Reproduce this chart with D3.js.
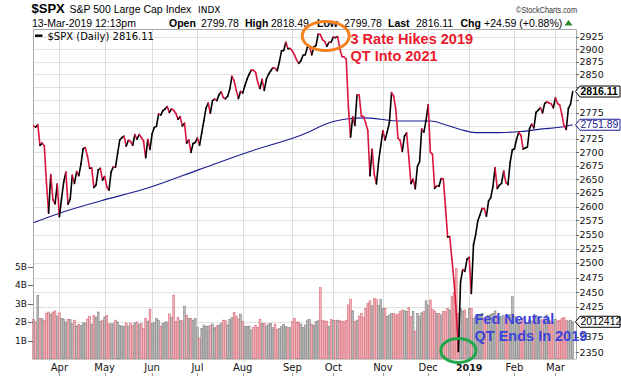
<!DOCTYPE html>
<html>
<head>
<meta charset="utf-8">
<script src="https://cdn.jsdelivr.net/npm/d3@7"></script>
<style>
  body { margin: 0; background: #fff; }
  svg { display: block; }
</style>
</head>
<body>
<svg id="chart" width="621" height="377"></svg>
<script>
// ---- data ----
var holidays = ["2018-03-30","2018-05-28","2018-07-04","2018-09-03","2018-11-22",
                "2018-12-05","2018-12-25","2019-01-01","2019-01-21","2019-02-18"];
var prevClose = 2765.31;   // close of the day before the first bar

// daily closes, $SPX
var closes = [
  2749.48,2747.33,2752.01,2712.92,2716.94,2711.93,2643.69,2588.26,2658.55,2612.62,2605.00,2640.87,
  2581.88,2614.45,2644.69,2662.84,2604.47,2613.16,2656.87,2642.19,2663.99,2656.30,2677.84,2706.39,2708.64,2693.13,2670.14,2670.29,2634.56,2639.40,2666.94,2669.91,2648.05,
  2654.80,2635.67,2629.73,2663.42,2672.63,2671.92,2697.79,2723.07,2727.72,2730.13,2711.45,2722.46,2720.13,2712.97,2733.01,2724.44,2733.29,2727.76,2721.33,2689.86,2724.01,2705.27,
  2734.62,2746.87,2748.80,2772.35,2770.37,2779.03,2782.00,2786.85,2775.63,2782.49,2779.66,2773.75,2762.59,2767.32,2749.76,2754.88,2717.07,2723.06,2699.63,2716.31,2718.37,
  2726.71,2713.22,2736.61,2759.82,2784.17,2793.84,2774.02,2798.29,2801.31,2798.43,2809.55,2815.62,2804.49,2801.83,2806.98,2820.40,2846.07,2837.44,2818.82,2802.60,2816.29,
  2813.36,2827.22,2840.35,2850.40,2858.45,2857.70,2853.58,2833.28,2821.93,2839.96,2818.37,2840.69,2850.13,2857.05,2862.96,2861.82,2856.98,2874.69,2896.74,2897.52,2914.04,2901.13,2901.52,
  2896.72,2888.60,2878.05,2871.68,2877.13,2887.89,2888.92,2904.18,2904.98,2888.80,2904.31,2907.95,2930.75,2929.67,2919.37,2915.56,2905.97,2914.00,2913.98,
  2924.59,2923.43,2925.51,2901.61,2885.57,2884.43,2880.34,2785.68,2728.37,2767.13,2750.79,2809.92,2809.21,2768.78,2767.78,2755.88,2740.69,2656.10,2705.57,2658.69,2641.25,2682.63,2711.74,
  2740.37,2723.06,2738.31,2755.45,2813.89,2806.83,2781.01,2726.22,2722.18,2701.58,2730.20,2736.27,2690.73,2641.89,2649.93,2632.56,2673.45,2682.17,2743.79,2737.80,2760.17,
  2790.37,2700.06,2695.95,2633.08,2637.72,2636.78,2651.07,2650.54,2599.95,2545.94,2546.16,2506.96,2467.42,2416.62,2351.10,2467.70,2488.83,2485.74,2506.85,
  2510.03,2447.89,2531.94,2549.69,2574.41,2584.96,2596.64,2596.26,2582.61,2610.30,2616.10,2635.96,2670.71,2632.90,2638.70,2642.33,2664.76,2643.85,2640.00,2681.05,2704.10,
  2706.53,2724.87,2737.70,2731.61,2706.05,2707.88,2709.80,2744.73,2753.03,2745.73,2775.60,2779.76,2784.70,2774.88,2792.67,2796.11,2793.90,2792.38,2784.49,
  2803.69,2792.81,2789.65,2771.45,2748.93,2743.07,2783.30,2791.52,2816.11
];

// daily volume, billions
var volumes = [
  2.14,2.00,3.44,2.20,2.18,2.09,2.47,2.54,2.43,2.54,2.60,2.32,
  2.49,2.20,2.16,2.00,2.14,2.14,1.90,2.10,1.78,1.87,1.82,1.95,1.95,2.16,2.29,1.87,2.36,2.27,2.54,2.04,2.10,
  2.27,2.36,1.90,1.90,1.90,2.10,2.00,1.82,1.78,1.78,1.95,1.78,1.93,1.82,1.95,2.00,1.87,1.91,1.66,2.20,2.05,2.70,
  1.93,1.98,2.20,2.10,1.78,1.93,2.00,2.00,2.43,2.25,3.46,2.02,2.25,2.07,2.07,2.86,2.36,2.20,2.20,2.10,2.20,
  1.71,1.12,1.66,1.84,1.75,1.78,1.80,1.89,1.69,1.80,1.84,1.93,2.10,2.07,1.84,2.14,2.25,2.52,2.32,2.16,2.43,
  2.02,1.78,1.75,1.78,1.57,1.71,1.82,1.71,2.14,1.93,1.93,1.78,1.89,1.93,1.69,1.89,1.60,1.64,1.75,1.87,1.75,1.71,1.69,
  2.02,2.20,2.00,2.00,1.89,1.71,1.84,2.10,2.14,1.87,1.84,2.02,2.07,3.87,2.10,2.05,2.05,1.78,2.14,
  2.09,2.07,2.10,2.07,2.05,2.02,2.10,2.92,3.23,2.61,2.02,2.10,2.32,2.47,2.25,2.74,3.00,3.15,2.88,3.26,3.23,2.90,3.22,
  2.74,2.74,2.29,2.38,2.47,2.47,2.38,2.43,2.56,2.65,2.61,2.56,2.79,2.29,2.56,1.51,2.47,2.32,2.50,2.56,3.15,
  2.92,3.19,2.68,2.59,2.47,2.47,2.38,2.56,2.56,2.74,2.65,3.37,3.60,4.90,2.47,2.74,2.60,2.65,2.20,
  2.74,2.74,2.20,2.29,2.40,2.30,2.45,2.20,2.25,2.35,2.40,2.45,2.60,2.35,2.25,2.30,2.35,2.20,2.25,2.40,3.37,
  2.30,2.10,2.15,2.05,2.20,2.00,1.95,2.10,2.05,2.15,2.35,2.20,2.10,2.15,2.05,2.38,2.10,2.05,2.00,
  2.15,2.05,2.10,2.20,2.25,2.10,2.05,2.10,2.012412
];

// 200-day moving average, read at a few dates
var maDates  = ["2018-03-14","2018-04-02","2018-04-27","2018-05-31","2018-07-03","2018-08-06","2018-09-10",
                "2018-10-01","2018-10-09","2018-10-22","2018-11-13","2018-12-04","2018-12-14","2018-12-26",
                "2019-01-07","2019-01-23","2019-02-06","2019-02-21","2019-03-05","2019-03-13"];
var maValues = [2571,2588,2610,2635,2668,2701,2732,2758,2763,2765,2759,2759,2752,2743,2737,2737,2739,2744,2747,2751.89];

var priceTicks = [2350,2375,2400,2425,2450,2475,2500,2525,2550,2575,2600,2625,2650,2675,2700,
                  2725,2750,2775,2800,2825,2850,2875,2900,2925];
var volTicks = [1,2,3,4,5];
var monthLabels = ["Apr","May","Jun","Jul","Aug","Sep","Oct","Nov","Dec","2019","Feb","Mar"];

var lastVolLabel = "2012412";

// ---- layout ----
var L = 33, R = 576, T = 29, B = 359;
var fmt = d3.timeFormat("%Y-%m-%d");
var svg = d3.select("#chart");

var days = d3.timeDay.range(new Date(2018, 2, 14), new Date(2019, 2, 14))
  .filter(function(d) { return d.getDay() > 0 && d.getDay() < 6 && holidays.indexOf(fmt(d)) < 0; });
var keys = days.map(fmt);

var rows = keys.map(function(k, i) {
  return { key: k, date: days[i], close: closes[i], vol: volumes[i],
           prev: i ? closes[i - 1] : prevClose };
});

var x = d3.scalePoint().domain(keys).range([33.5, 572.7]);
var y = d3.scaleLog().domain([2339, 2941]).range([B, T]);
var yv = d3.scaleLinear().domain([0, 5]).range([B, 266.5]);

// month starts
var monthStarts = rows.filter(function(d, i) {
  return i > 0 && d.date.getMonth() != rows[i - 1].date.getMonth();
});

// grid
svg.append("g").selectAll("line").data(priceTicks).join("line")
  .attr("x1", L).attr("x2", R)
  .attr("y1", function(d) { return Math.round(y(d)) + 0.5; })
  .attr("y2", function(d) { return Math.round(y(d)) + 0.5; })
  .attr("stroke", "#e2e2e2");
svg.append("g").selectAll("line").data(monthStarts).join("line")
  .attr("x1", function(d) { return Math.round(x(d.key)) + 0.5; })
  .attr("x2", function(d) { return Math.round(x(d.key)) + 0.5; })
  .attr("y1", T).attr("y2", B)
  .attr("stroke", "#dcdcdc");

// volume bars
svg.append("g").selectAll("rect").data(rows).join("rect")
  .attr("x", function(d) { return x(d.key) - 0.9; })
  .attr("width", 1.8)
  .attr("y", function(d) { return yv(d.vol); })
  .attr("height", function(d) { return B - yv(d.vol); })
  .attr("fill", function(d) { return d.close < d.prev ? "#f2b3ba" : "#bdbdbd"; })
  .attr("stroke", function(d) { return d.close < d.prev ? "#d7707c" : "#858585"; })
  .attr("stroke-width", 0.6);

// frame
svg.append("path")
  .attr("d", "M" + (L + 0.5) + "," + B + "V" + (T + 0.5) + "H" + (R + 0.5) + "V" + B)
  .attr("fill", "none").attr("stroke", "#a8a8a8");
svg.append("line").attr("x1", L).attr("x2", R + 0.5).attr("y1", B + 0.5).attr("y2", B + 0.5)
  .attr("stroke", "#c8c8c8");

// moving average
var ma = maDates.map(function(k, i) { return { key: k, v: maValues[i] }; });
svg.append("path").datum(ma)
  .attr("d", d3.line().x(function(d) { return x(d.key); }).y(function(d) { return y(d.v); })
    .curve(d3.curveMonotoneX))
  .attr("fill", "none").attr("stroke", "#1b1b92").attr("stroke-width", 1.1);

// price line, red on down days, black on up days
var segs = d3.pairs(rows);
var seg = d3.line().x(function(d) { return x(d.key); }).y(function(d) { return y(d.close); });
svg.append("g").selectAll("path").data(segs).join("path")
  .attr("d", seg)
  .attr("fill", "none")
  .attr("stroke", function(p) { return p[1].close < p[0].close ? "#d8153d" : "#000"; })
  .attr("stroke-width", 1.6)
  .attr("stroke-linecap", "round");

// value flags on right axis
var last = rows[rows.length - 1];
var flags = [
  { yy: y(last.close), label: d3.format(".2f")(last.close), stroke: "#000", color: "#000", bold: true },
  { yy: y(maValues[maValues.length - 1]), label: d3.format(".2f")(maValues[maValues.length - 1]),
    stroke: "#1b1b92", color: "#1b1b92", bold: false },
  { yy: yv(last.vol), label: lastVolLabel, stroke: "#000", color: "#000", bold: false }
];

// right axis (labels under a flag are hidden, as in the original)
var shown = priceTicks.filter(function(t) {
  return flags.every(function(f) { return Math.abs(y(t) - f.yy) > 9; });
});
var ax = svg.append("g").attr("font-family", "DejaVu Sans, Verdana, sans-serif").attr("font-size", 9.5);
ax.selectAll("line").data(priceTicks).join("line")
  .attr("x1", R).attr("x2", R + 3)
  .attr("y1", function(d) { return Math.round(y(d)) + 0.5; })
  .attr("y2", function(d) { return Math.round(y(d)) + 0.5; })
  .attr("stroke", "#666");
ax.selectAll("text").data(shown).join("text")
  .attr("x", R + 3.5).attr("y", function(d) { return y(d) + 3.4; })
  .attr("fill", "#111").text(function(d) { return d; });

flags.forEach(function(f) {
  var g = svg.append("g");
  g.append("path")
    .attr("d", "M" + (R - 0.5) + "," + f.yy + "L" + (R + 4) + "," + (f.yy - 5.5) + "H620V" + (f.yy + 5.5) + "H" + (R + 4) + "Z")
    .attr("fill", "#fff").attr("stroke", f.stroke).attr("stroke-width", 1);
  g.append("text").attr("x", R + 4.5).attr("y", f.yy + 3.6)
    .attr("font-family", "Liberation Sans, Arial, sans-serif").attr("font-size", 10.5)
    .attr("font-weight", f.bold ? "bold" : null).attr("fill", f.color).text(f.label);
});

// left volume axis
var vax = svg.append("g").attr("font-family", "DejaVu Sans, Verdana, sans-serif").attr("font-size", 9);
vax.selectAll("line").data(volTicks).join("line")
  .attr("x1", 28).attr("x2", L)
  .attr("y1", function(d) { return Math.round(yv(d)) + 0.5; })
  .attr("y2", function(d) { return Math.round(yv(d)) + 0.5; })
  .attr("stroke", "#666");
vax.selectAll("text").data(volTicks).join("text")
  .attr("x", 27).attr("y", function(d) { return yv(d) + 3.3; })
  .attr("text-anchor", "end").attr("fill", "#111").text(function(d) { return d + "B"; });

// month labels
var mx = svg.append("g").attr("font-family", "DejaVu Sans, Verdana, sans-serif").attr("font-size", 10);
mx.selectAll("text").data(monthStarts).join("text")
  .attr("x", function(d) { return x(d.key); }).attr("y", 370.5)
  .attr("text-anchor", "middle").attr("fill", "#111")
  .attr("font-weight", function(d, i) { return monthLabels[i] == "2019" ? "bold" : null; })
  .attr("font-size", function(d, i) { return monthLabels[i] == "2019" ? 9.5 : null; })
  .text(function(d, i) { return monthLabels[i]; });
mx.selectAll("line").data(monthStarts).join("line")
  .attr("x1", function(d) { return Math.round(x(d.key)) + 0.5; })
  .attr("x2", function(d) { return Math.round(x(d.key)) + 0.5; })
  .attr("y1", 373).attr("y2", 376).attr("stroke", "#999");

// legend
svg.append("line").attr("x1", 35).attr("x2", 42.5).attr("y1", 35.7).attr("y2", 35.7)
  .attr("stroke", "#000").attr("stroke-width", 2.4);
svg.append("text").attr("x", 47.5).attr("y", 39.5)
  .attr("font-family", "DejaVu Sans, Verdana, sans-serif").attr("font-size", 10)
  .text("$SPX (Daily) " + d3.format(".2f")(last.close));

// header
var hf = "Liberation Sans, Arial, sans-serif";
svg.append("text").attr("x", 31.5).attr("y", 13).attr("font-family", hf)
  .attr("font-size", 13).attr("font-weight", "bold").text("$SPX");
svg.append("text").attr("x", 69.5).attr("y", 12.5).attr("font-family", hf)
  .attr("font-size", 10.5).text("S&P 500 Large Cap Index");
svg.append("text").attr("x", 198).attr("y", 12.5).attr("font-family", "DejaVu Sans, Verdana, sans-serif")
  .attr("font-size", 9).text("INDX");
svg.append("text").attr("x", 577).attr("y", 12.5).attr("font-family", hf)
  .attr("font-size", 9).attr("text-anchor", "end").attr("fill", "#333")
  .attr("textLength", 61).attr("lengthAdjust", "spacingAndGlyphs").text("\u00a9StockCharts.com");
svg.append("text").attr("x", 32).attr("y", 26.5).attr("font-family", hf)
  .attr("font-size", 10.5).text("13-Mar-2019 12:13pm");

var quote = [
  { x: 169, t: "Open", b: true }, { x: 201, t: "2799.78" },
  { x: 245, t: "High", b: true }, { x: 271, t: "2818.49" },
  { x: 317, t: "Low", b: true },  { x: 344, t: "2799.78" },
  { x: 388, t: "Last", b: true }, { x: 416, t: "2816.11" },
  { x: 460.5, t: "Chg", b: true }, { x: 484, t: "+24.59 (+0.88%)" }
];
svg.append("g").selectAll("text").data(quote).join("text")
  .attr("x", function(d) { return d.x; }).attr("y", 26.5)
  .attr("font-family", hf).attr("font-size", 10.5)
  .attr("font-weight", function(d) { return d.b ? "bold" : null; })
  .text(function(d) { return d.t; });
svg.append("path").attr("d", "M564.5,25.5L568.5,20L572.5,25.5Z").attr("fill", "#2c8a2c");

// annotations
var iPeak = keys.indexOf("2018-09-25");
var lowDay = rows[keys.indexOf("2018-12-24")];
svg.append("ellipse")
  .attr("cx", (x(keys[iPeak]) + x(keys[iPeak + 1])) / 2).attr("cy", 36)
  .attr("rx", 23.5).attr("ry", 14.5)
  .attr("fill", "none").attr("stroke", "#f58220").attr("stroke-width", 3);
svg.append("ellipse")
  .attr("cx", x(lowDay.key)).attr("cy", y(lowDay.close) - 1)
  .attr("rx", 17.5).attr("ry", 12)
  .attr("fill", "none").attr("stroke", "#1fa84a").attr("stroke-width", 3);

var notes = [
  { t: "3 Rate Hikes 2019", x: 350.5, y: 43.5, c: "#ea1b2d" },
  { t: "QT Into 2021", x: 350.5, y: 60.5, c: "#ea1b2d" },
  { t: "Fed Neutral", x: 474.5, y: 324, c: "#3a44dc" },
  { t: "QT Ends In 2019", x: 474.5, y: 340.5, c: "#3a44dc" }
];
svg.append("g").selectAll("text").data(notes).join("text")
  .attr("x", function(d) { return d.x; }).attr("y", function(d) { return d.y; })
  .attr("font-family", hf).attr("font-size", 14.5).attr("font-weight", "bold")
  .attr("fill", function(d) { return d.c; })
  .text(function(d) { return d.t; });
</script>
</body>
</html>
